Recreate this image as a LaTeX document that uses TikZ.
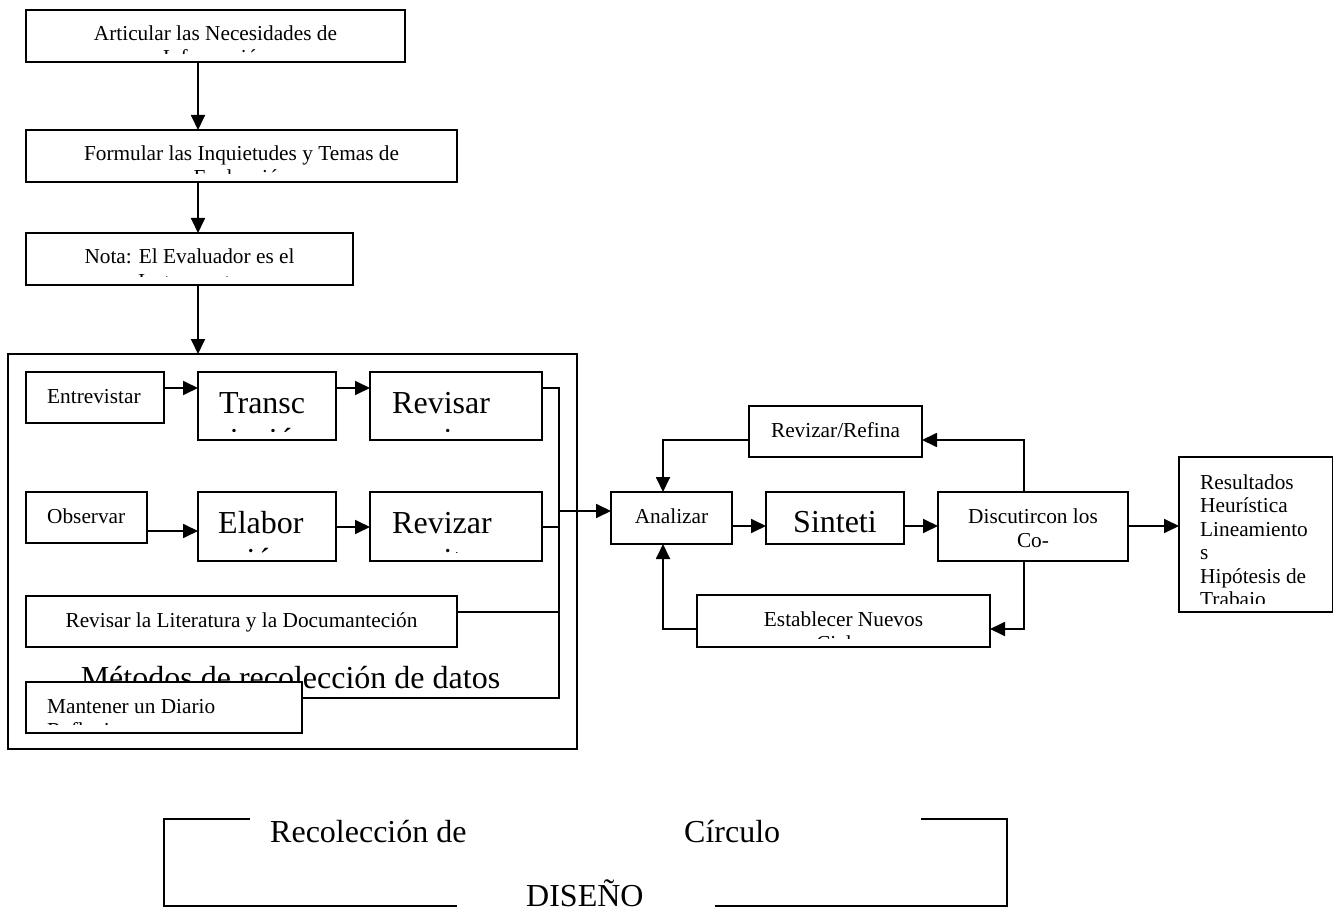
\documentclass[tikz,border=0pt]{standalone}
\usepackage{fontspec}
\setmainfont{Liberation Serif}
\usetikzlibrary{arrows.meta}

% framed box from its top-left (x1,y1) to bottom-right (x2,y2)
\newcommand\panel[5]{%
  \node[box, anchor=north west, minimum width={#4pt-#2pt}, minimum height={#5pt-#3pt}] (#1) at (#2,#3) {};}
% clip region for the text of a box: overflowing lines are cut off
\newcommand\inside[1]{%
  \clip ([shift={(1.5,1.5)}]#1.north west) rectangle ([shift={(-1.5,-8.5)}]#1.south east);}

\begin{document}
\begin{tikzpicture}[x=1pt,y=-1pt,
  box/.style={draw, line width=1.8pt, fill=white, inner sep=0pt, outer sep=0pt},
  sm/.style={font=\fontsize{21.3}{24}\selectfont, inner sep=0pt},
  lg/.style={font=\fontsize{32}{37}\selectfont, inner sep=0pt},
  link/.style={line width=1.8pt},
  arr/.style={link, -{Triangle[length=15pt,width=14pt]}},
]
\clip (0,0) rectangle (1334,912);
\fill[white] (0,0) rectangle (1334,912);

% ---------- guide lines for the connectors ----------
\coordinate (col) at (198,0);
\coordinate (bus) at (559,0);
\coordinate (lx)  at (663,0);
\coordinate (rx)  at (1024,0);
\coordinate (r1)  at (0,388);
\coordinate (r2)  at (0,527);
\coordinate (r2b) at (0,531);
\coordinate (r3)  at (0,612);
\coordinate (r4)  at (0,698);
\coordinate (r5)  at (0,511);
\coordinate (t1)  at (0,440);
\coordinate (t2)  at (0,629);
\coordinate (t3)  at (0,526);

% ---------- upper column ----------
\panel{art}{26}{10}{405}{62}
\begin{scope}\inside{art}
  \node[sm,anchor=base] (art1) at (215.5,41) {Articular las Necesidades de};
  \node[sm,anchor=base] (art2) at (215.5,65) {Información};
\end{scope}

\panel{form}{26}{130}{457}{182}
\begin{scope}\inside{form}
  \node[sm,anchor=base] (form1) at (241.5,161) {Formular las Inquietudes y Temas de};
  \node[sm,anchor=base] (form2) at (241.5,185) {Evaluación};
\end{scope}

\panel{nota}{26}{233}{353}{285}
\begin{scope}\inside{nota}
  \node[sm,anchor=base] (nota1) at (189.5,264) {Nota: El Evaluador es el};
  \node[sm,anchor=base] (nota2) at (189.5,288) {Instrumento};
\end{scope}

% ---------- data collection methods ----------
\panel{metodos}{8}{354}{577}{749}
\node[lg,anchor=base] (metodostit) at (290.5,688) {Métodos de recolección de datos};

\draw[arr] (art.south -| col) -- (form.north -| col);
\draw[arr] (form.south -| col) -- (nota.north -| col);
\draw[arr] (nota.south -| col) -- (metodos.north -| col);

\panel{entre}{26}{372}{164}{423}
\begin{scope}\inside{entre}
  \node[sm,anchor=base west] (entre1) at (47,403) {Entrevistar};
\end{scope}

\panel{transc}{198}{372}{336}{440}
\begin{scope}\inside{transc}
  \node[lg,anchor=base west] (transc1) at (219,413) {Transc};
  \node[lg,anchor=base west] (transc2) at (219,450) {ripción};
\end{scope}

\panel{revisar}{370}{372}{542}{440}
\begin{scope}\inside{revisar}
  \node[lg,anchor=base west] (revisar1) at (392,413) {Revisar};
  \node[lg,anchor=base west] (revisar2) at (392,450) {escritos};
\end{scope}

\panel{obs}{26}{492}{147}{543}
\begin{scope}\inside{obs}
  \node[sm,anchor=base west] (obs1) at (47,523) {Observar};
\end{scope}

\panel{elab}{198}{492}{336}{561}
\begin{scope}\inside{elab}
  \node[lg,anchor=base west] (elab1) at (218,533) {Elabor};
  \node[lg,anchor=base west] (elab2) at (218,570) {ación};
\end{scope}

\panel{revizar}{370}{492}{542}{561}
\begin{scope}\inside{revizar}
  \node[lg,anchor=base west] (revizar1) at (392,533) {Revizar};
  \node[lg,anchor=base west] (revizar2) at (392,570) {escritos};
\end{scope}

\panel{lit}{26}{596}{457}{647}
\begin{scope}\inside{lit}
  \node[sm,anchor=base] (lit1) at (241.5,627) {Revisar la Literatura y la Documanteción};
\end{scope}

% collecting line on the right of the methods
\draw[link] (revisar.east |- r1) -| (bus |- r4) -- (302,698) coordinate (busend);
\draw[link] (revizar.east |- r2) -- (bus |- r2);
\draw[link] (lit.east |- r3) -- (bus |- r3);

\panel{diario}{26}{682}{302}{733}
\begin{scope}\inside{diario}
  \node[sm,anchor=base west] (diario1) at (47,713) {Mantener un Diario};
  \node[sm,anchor=base west] (diario2) at (47,737) {Reflexivo};
\end{scope}

\draw[arr] (entre.east |- r1) -- (transc.west |- r1);
\draw[arr] (transc.east |- r1) -- (revisar.west |- r1);
\draw[arr] (obs.east |- r2b) -- (elab.west |- r2b);
\draw[arr] (elab.east |- r2) -- (revizar.west |- r2);

% ---------- analysis circle ----------
\panel{analizar}{611}{492}{732}{544}
\begin{scope}\inside{analizar}
  \node[sm,anchor=base] (analizar1) at (671.5,523) {Analizar};
\end{scope}

\panel{sint}{766}{492}{904}{544}
\begin{scope}\inside{sint}
  \node[lg,anchor=base west] (sint1) at (793,532) {Sinteti};
\end{scope}

\panel{disc}{938}{492}{1128}{561}
\begin{scope}\inside{disc}
  \node[sm,anchor=base] (disc1) at (1033,523) {Discutircon los};
  \node[sm,anchor=base] (disc2) at (1033,547) {Co-};
\end{scope}

\panel{refina}{749}{406}{922}{457}
\begin{scope}\inside{refina}
  \node[sm,anchor=base] (refina1) at (835.5,437) {Revizar/Refina};
\end{scope}

\panel{estab}{697}{595}{990}{647}
\begin{scope}\inside{estab}
  \node[sm,anchor=base] (estab1) at (843.5,626) {Establecer Nuevos};
  \node[sm,anchor=base] (estab2) at (843.5,650) {Ciclos};
\end{scope}

\panel{result}{1179}{457}{1332.5}{612}
\begin{scope}\inside{result}
  \node[sm,anchor=base west] (res1) at (1200,489)   {Resultados};
  \node[sm,anchor=base west] (res2) at (1200,512.5) {Heurística};
  \node[sm,anchor=base west] (res3) at (1200,536)   {Lineamiento};
  \node[sm,anchor=base west] (res4) at (1200,559.5) {s};
  \node[sm,anchor=base west] (res5) at (1200,583)   {Hipótesis de};
  \node[sm,anchor=base west] (res6) at (1200,606.5) {Trabajo};
\end{scope}

\draw[arr] (bus |- r5) -- (analizar.west |- r5);
\draw[arr] (analizar.east |- t3) -- (sint.west |- t3);
\draw[arr] (sint.east |- t3) -- (disc.west |- t3);
\draw[arr] (disc.east |- t3) -- (result.west |- t3);
\draw[arr] (refina.west |- t1) -| (analizar.north -| lx);
\draw[arr] (disc.north -| rx) |- (refina.east |- t1);
\draw[arr] (estab.west |- t2) -| (analizar.south -| lx);
\draw[arr] (disc.south -| rx) |- (estab.east |- t2);

% ---------- design frame ----------
\draw[link] (250,819) -- (164,819) -- (164,906) -- (457,906);
\draw[link] (921,819) -- (1007,819) -- (1007,906) -- (715,906);
\node[lg,anchor=base west] (rec)    at (270,842) {Recolección de};
\node[lg,anchor=base west] (circ)   at (684,842) {Círculo};
\node[lg,anchor=base west] (diseno) at (526,906) {DISEÑO};
\end{tikzpicture}
\end{document}
